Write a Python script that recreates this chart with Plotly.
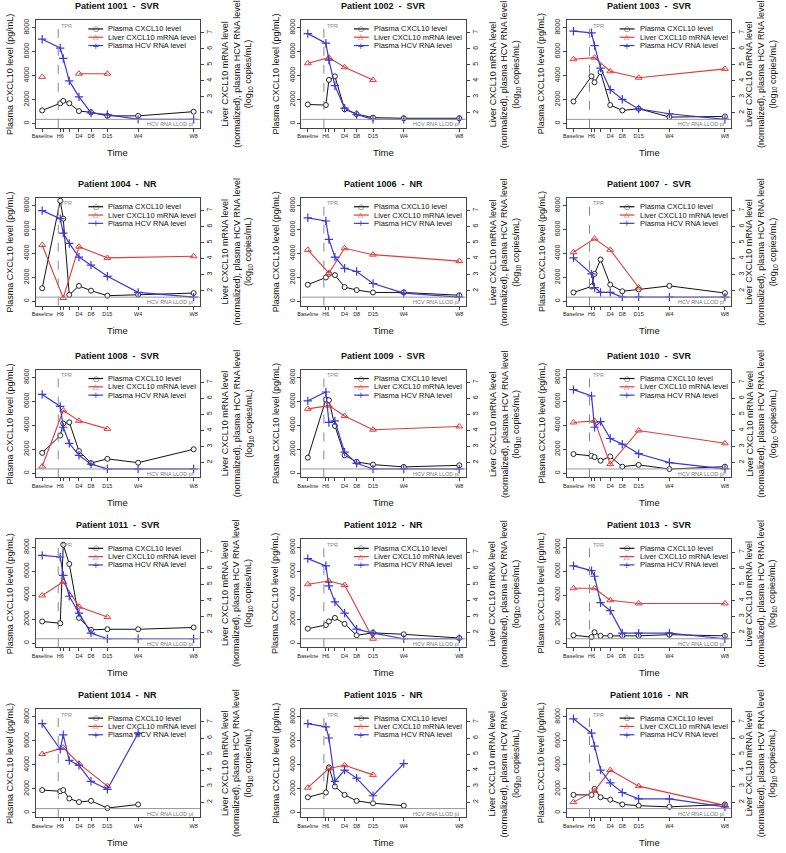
import plotly.graph_objects as go

# ---------------- data ----------------
time_labels = ["Baseline", "H6", "", "", "D4", "D8", "D15", "W4", "W8"]
time_pos = [0, 54, 63, 81, 110, 146, 195, 287, 453]
liver_idx = [0, 2, 4, 6, 8]          # biopsy time points (Baseline, early, D4, D15, W8)
tpr_pos = 48
llod = 1.6

patients = ["1001", "1002", "1003", "1004", "1006", "1007", "1008", "1009",
            "1010", "1011", "1012", "1013", "1014", "1015", "1016"]
outcomes = ["SVR", "SVR", "SVR", "NR", "NR", "SVR", "SVR", "SVR",
            "SVR", "SVR", "NR", "SVR", "NR", "NR", "NR"]

plasma_1001 = [1100, 1700, 1900, 1700, 1050, 950, 650, 650, 1000]
liver_1001 = [4.25, None, 4.45, 4.45, None]
hcv_1001 = [6.6, 6.05, 5.4, 4.0, 3.0, 2.0, 1.9, 1.6, 1.6]

plasma_1002 = [1600, 1550, 3650, 3950, 1200, 800, 500, 450, 450]
liver_1002 = [5.1, 5.45, 4.85, 4.05, None]
hcv_1002 = [6.95, 6.35, 5.3, 3.7, 2.3, 1.9, 1.6, 1.6, 1.6]

plasma_1003 = [1850, 3950, 3450, 4300, 1550, 1100, 1250, 550, 600]
liver_1003 = [5.35, 5.45, 4.6, 4.2, 4.75]
hcv_1003 = [7.1, 7.0, 6.2, 4.8, 3.45, 2.85, 2.25, 1.95, 1.6]

plasma_1004 = [1100, 8400, 6900, 550, 1300, 900, 480, 560, 700]
liver_1004 = [4.85, 1.55, 4.75, 4.05, 4.15]
hcv_1004 = [7.0, 6.5, 5.6, 4.95, 4.1, 3.6, 2.9, 1.9, 1.6]

plasma_1006 = [1400, 2000, 2300, 2200, 1200, 950, 750, 750, 520]
liver_1006 = [4.55, 3.1, 4.65, 4.25, 3.85]
hcv_1006 = [6.55, 6.35, 5.2, 4.1, 3.4, 3.2, 2.45, 1.85, 1.6]

plasma_1007 = [750, 1250, 2300, 3500, 1400, 850, 1000, 1300, 700]
liver_1007 = [4.4, 5.25, 4.55, 2.2, None]
hcv_1007 = [4.05, 3.05, 2.2, 1.9, 1.9, 1.6, 1.6, 1.6, 1.6]

plasma_1008 = [1700, 3150, 4150, 4250, 1850, 850, 1200, 880, 2000]
liver_1008 = [1.75, 5.25, 4.6, 4.1, None]
hcv_1008 = [6.25, 5.5, 4.2, 3.2, 2.45, 1.9, 1.6, 1.6, 1.6]

plasma_1009 = [1300, 6150, 6100, 3950, 1500, 950, 720, 530, 660]
liver_1009 = [5.35, 5.55, 4.9, 4.05, 4.25]
hcv_1009 = [5.85, 6.4, 4.5, 4.6, 2.65, 1.95, 1.6, 1.6, 1.6]

plasma_1010 = [1600, 1450, 1350, 1050, 1400, 550, 700, 350, 550]
liver_1010 = [4.5, 4.6, 1.9, 4.0, 3.2]
hcv_1010 = [6.55, 6.15, 4.2, 4.55, 3.5, 3.15, 2.55, 2.0, 1.6]

plasma_1011 = [1800, 1650, 8200, 6600, 2100, 1100, 1150, 1150, 1300]
liver_1011 = [4.3, 5.15, 3.6, 2.95, None]
hcv_1011 = [6.8, 6.7, 5.55, 4.25, 3.2, 1.95, 1.6, 1.6, 1.6]

plasma_1012 = [1200, 1500, 1800, 2100, 1600, 650, 850, 730, 420]
liver_1012 = [5.0, 5.2, 4.95, 1.6, None]
hcv_1012 = [6.6, 6.15, 4.9, 3.9, 3.2, 2.2, 1.95, 1.6, 1.6]

plasma_1013 = [650, 500, 900, 600, 600, 600, 600, 700, 600]
liver_1013 = [4.75, 4.75, 4.0, 3.8, 3.8]
hcv_1013 = [6.15, 5.85, 5.5, 3.85, 3.35, 1.95, 1.95, 1.95, 1.6]

plasma_1014 = [1900, 1800, 1900, 1200, 900, 1000, 400, 700, None]
liver_1014 = [5.0, 5.4, 4.4, 3.0, None]
hcv_1014 = [6.9, 5.3, 6.2, 4.6, 4.3, 3.3, 2.8, 6.3, None]

plasma_1015 = [1300, 1700, 3800, 2200, 1500, 1000, 800, 600, None]
liver_1015 = [2.9, 4.1, 4.3, 3.7, None]
hcv_1015 = [6.9, 6.7, 6.0, 3.3, 4.0, 3.5, 2.4, 4.4, None]

plasma_1016 = [1500, 1500, 2000, 1300, 1100, 700, 600, 500, 700]
liver_1016 = [2.0, 2.7, 4.0, 3.0, 1.8]
hcv_1016 = [7.2, 6.3, 5.5, 4.0, 3.2, 2.6, 2.2, 2.2, 1.7]

plasma_all = [plasma_1001, plasma_1002, plasma_1003, plasma_1004, plasma_1006,
              plasma_1007, plasma_1008, plasma_1009, plasma_1010, plasma_1011,
              plasma_1012, plasma_1013, plasma_1014, plasma_1015, plasma_1016]
liver_all = [liver_1001, liver_1002, liver_1003, liver_1004, liver_1006,
             liver_1007, liver_1008, liver_1009, liver_1010, liver_1011,
             liver_1012, liver_1013, liver_1014, liver_1015, liver_1016]
hcv_all = [hcv_1001, hcv_1002, hcv_1003, hcv_1004, hcv_1006,
           hcv_1007, hcv_1008, hcv_1009, hcv_1010, hcv_1011,
           hcv_1012, hcv_1013, hcv_1014, hcv_1015, hcv_1016]

# ---------------- styling / layout ----------------
W, H = 786, 853
col_left = [32, 299, 566]
box_w = 165
row_top = [19, 197, 369, 539, 709]
box_h = 108
right_title_x = [234, 503, 761]

BLACK = "#111111"
RED = "#e03a3a"
BLUE = "#3a3ad6"
GRAY = "#888888"
AXC = "#444444"
FONT = "Liberation Sans, Arial, sans-serif"

major_vals = [p for p, t in zip(time_pos, time_labels) if t]
major_text = [t for t in time_labels if t]
minor_vals = [p for p, t in zip(time_pos, time_labels) if not t]

fig = go.Figure()
layout = dict(width=W, height=H, autosize=False, margin=dict(l=0, r=0, t=0, b=0),
              paper_bgcolor="white", plot_bgcolor="white", showlegend=False,
              font=dict(family=FONT, color="#111"))
shapes, annos = [], []

liver_x = [time_pos[k] for k in liver_idx]

for i, pid in enumerate(patients):
    r, c = divmod(i, 3)
    L = col_left[c]
    T = row_top[r]
    x0, x1 = L / W, (L + box_w) / W
    y1, y0 = 1 - T / H, 1 - (T + box_h) / H
    xn = i + 1
    yl, yr = 2 * i + 1, 2 * i + 2
    xid = "x" if xn == 1 else f"x{xn}"
    ylid = "y" if yl == 1 else f"y{yl}"
    yrid = f"y{yr}"

    layout["xaxis" if xn == 1 else f"xaxis{xn}"] = dict(
        domain=[x0, x1], anchor=ylid, range=[-19, 472],
        tickmode="array", tickvals=major_vals, ticktext=major_text,
        minor=dict(tickmode="array", tickvals=minor_vals, ticks="outside",
                   ticklen=3, tickcolor=AXC, showgrid=False),
        ticks="outside", ticklen=3, tickcolor=AXC, showline=True, mirror=True,
        linecolor=AXC, linewidth=1, showgrid=False, zeroline=False,
        tickfont=dict(size=5.5, color="#222"), fixedrange=True)
    layout["yaxis" if yl == 1 else f"yaxis{yl}"] = dict(
        domain=[y0, y1], anchor=xid, range=[-350, 8650],
        tickmode="array", tickvals=[0, 2000, 4000, 6000, 8000],
        tickangle=-90, ticks="outside", ticklen=3, tickcolor=AXC,
        showline=True, linecolor=AXC, linewidth=1, showgrid=False,
        zeroline=False, tickfont=dict(size=7, color="#222"), fixedrange=True)
    layout[f"yaxis{yr}"] = dict(
        domain=[y0, y1], anchor=xid, overlaying=ylid, side="right",
        range=[1.07, 7.8], tickmode="array", tickvals=[2, 3, 4, 5, 6, 7],
        tickangle=-90, ticks="outside", ticklen=3, tickcolor=AXC,
        showline=True, linecolor=AXC, linewidth=1, showgrid=False,
        zeroline=False, tickfont=dict(size=7, color="#222"), fixedrange=True)

    # series
    fig.add_trace(go.Scatter(
        x=time_pos, y=plasma_all[i], xaxis=xid, yaxis=ylid, mode="lines+markers",
        line=dict(color=BLACK, width=1),
        marker=dict(symbol="circle", size=5, color="white",
                    line=dict(color=BLACK, width=0.9)),
        connectgaps=False, name="Plasma CXCL10 level"))
    fig.add_trace(go.Scatter(
        x=liver_x, y=liver_all[i], xaxis=xid, yaxis=yrid, mode="lines+markers",
        line=dict(color=RED, width=1.1),
        marker=dict(symbol="triangle-up-open", size=6,
                    line=dict(color=RED, width=1)),
        connectgaps=False, name="Liver CXCL10 mRNA level"))
    fig.add_trace(go.Scatter(
        x=time_pos, y=hcv_all[i], xaxis=xid, yaxis=yrid, mode="lines+markers",
        line=dict(color=BLUE, width=1.2),
        marker=dict(symbol="cross-thin-open", size=6,
                    line=dict(color=BLUE, width=1.2)),
        connectgaps=False, name="Plasma HCV RNA level"))

    # TPR dashed line and LLOD line
    shapes.append(dict(type="line", xref=xid, yref=f"{ylid} domain",
                       x0=tpr_pos, x1=tpr_pos, y0=0, y1=1,
                       line=dict(color=GRAY, width=1, dash="dash")))
    annos.append(dict(xref=xid, yref=f"{ylid} domain", x=tpr_pos, y=0.995,
                      text="TPR", showarrow=False, xanchor="left", yanchor="top",
                      xshift=1, font=dict(size=5.5, color=GRAY)))
    shapes.append(dict(type="line", xref=f"{xid} domain", yref=yrid,
                       x0=0, x1=1, y0=llod, y1=llod,
                       line=dict(color="#999999", width=1)))
    annos.append(dict(xref=f"{xid} domain", yref=yrid, x=0.97, y=llod,
                      text="HCV RNA LLOD pl", showarrow=False, xanchor="right",
                      yanchor="top", font=dict(size=5.5, color="#777")))

    # legend (drawn manually for compact spacing)
    entries = [("Plasma CXCL10 level", BLACK, "○", 7),
               ("Liver CXCL10 mRNA level", RED, "△", 7),
               ("Plasma HCV RNA level", BLUE, "+", 9)]
    for j, (lab, col, glyph, gs) in enumerate(entries):
        yy = 0.917 - j * 0.077
        shapes.append(dict(type="line", xref=f"{xid} domain", yref=f"{ylid} domain",
                           x0=0.32, x1=0.41, y0=yy, y1=yy,
                           line=dict(color=col, width=1.2)))
        annos.append(dict(xref=f"{xid} domain", yref=f"{ylid} domain",
                          x=0.365, y=yy, text=glyph, showarrow=False,
                          xanchor="center", yanchor="middle",
                          font=dict(size=gs, color=col, family="DejaVu Sans")))
        annos.append(dict(xref=f"{xid} domain", yref=f"{ylid} domain",
                          x=0.43, y=yy, text=lab, showarrow=False,
                          xanchor="left", yanchor="middle",
                          font=dict(size=7.5, color="#111")))

    # titles
    annos.append(dict(xref="paper", yref="paper", x=(L + box_w / 2) / W,
                      y=1 - (T - 14) / H, text=f"<b>Patient {pid}  -  {outcomes[i]}</b>",
                      showarrow=False, xanchor="center", yanchor="middle",
                      font=dict(size=9, color="#111")))
    annos.append(dict(xref="paper", yref="paper", x=(L - 26) / W,
                      y=1 - (T + box_h / 2) / H, text="Plasma CXCL10 level (pg/mL)",
                      textangle=-90, showarrow=False, xanchor="center",
                      yanchor="middle", font=dict(size=9, color="#111")))
    annos.append(dict(xref="paper", yref="paper", x=right_title_x[c] / W,
                      y=1 - (T + box_h / 2) / H,
                      text="Liver CXCL10 mRNA level<br>(normalized), plasma HCV RNA level<br>(log<sub>10</sub> copies/mL)",
                      textangle=-90, showarrow=False, xanchor="center",
                      yanchor="middle", font=dict(size=9, color="#111")))
    annos.append(dict(xref="paper", yref="paper", x=(L + box_w / 2) / W,
                      y=1 - (T + box_h + 25) / H, text="Time",
                      showarrow=False, xanchor="center", yanchor="middle",
                      font=dict(size=9.5, color="#111")))

layout["shapes"] = shapes
layout["annotations"] = annos
fig.update_layout(**layout)
fig.write_html("out.html", config={"displayModeBar": False},
               post_script="document.body.style.margin='0';document.body.style.overflow='hidden';")
